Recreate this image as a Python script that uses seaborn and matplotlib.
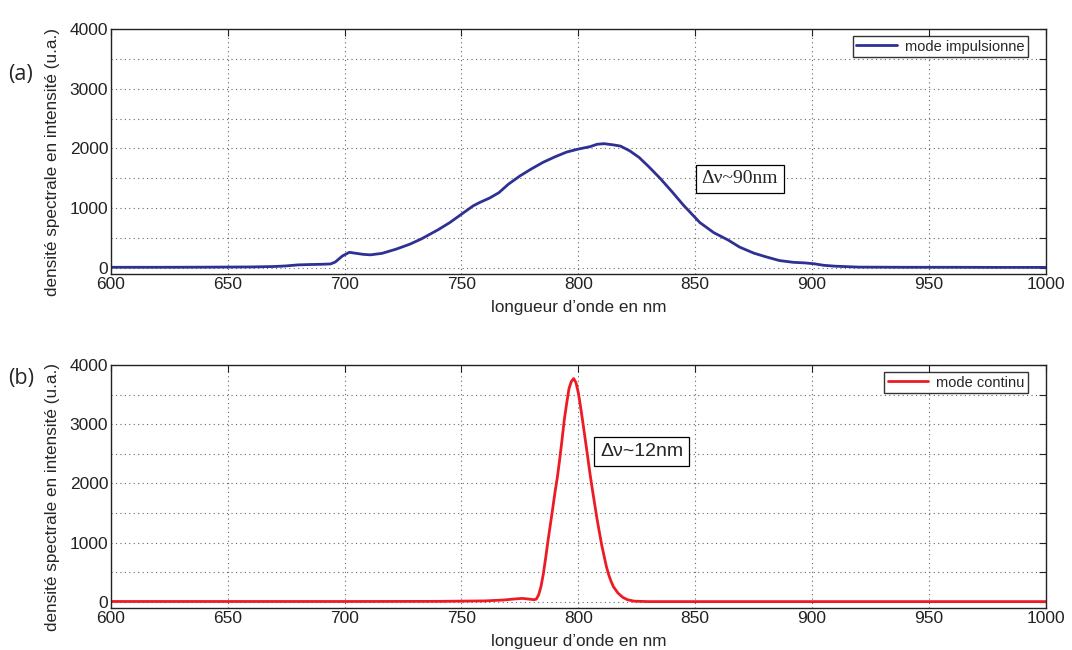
import matplotlib
matplotlib.use("Agg")
import matplotlib.pyplot as plt
import seaborn as sns
import pandas as pd
from matplotlib.ticker import MultipleLocator, FuncFormatter

# Spectre en mode impulsionnel (longueur d'onde en nm, densité en u.a.)
pulse_wl = [600, 620, 640, 660, 670, 675, 680, 685, 690, 694, 696, 699, 702, 705,
            708, 711, 716, 722, 728, 733, 740, 745, 750, 755, 758, 762, 766, 770,
            775, 780, 785, 790, 795, 800, 805, 808, 811, 815, 818, 822, 826, 830,
            835, 840, 845, 852, 858, 864, 869, 875, 880, 886, 892, 897, 901, 905,
            910, 920, 940, 960, 980, 1000]
pulse_val = [12, 12, 14, 18, 25, 35, 52, 58, 62, 68, 100, 200, 262, 245,
             228, 220, 245, 315, 400, 490, 640, 760, 900, 1040, 1100, 1170, 1260, 1400,
             1540, 1660, 1770, 1860, 1940, 1990, 2030, 2070, 2080, 2060, 2040, 1960, 1850, 1700,
             1500, 1280, 1050, 760, 590, 470, 350, 250, 190, 125, 95, 85, 70, 45,
             30, 15, 12, 12, 10, 10]

# Spectre en mode continu
cw_wl = [600, 650, 700, 740, 760, 768, 772, 776, 779, 781, 782, 783, 784, 785, 786,
         787, 788, 789, 790, 791, 792, 793, 794, 795, 796, 797, 798, 799, 800, 801,
         802, 803, 804, 805, 806, 807, 808, 809, 810, 811, 812, 813, 814, 815, 817,
         819, 821, 824, 830, 850, 900, 950, 1000]
cw_val = [10, 10, 10, 12, 20, 35, 50, 62, 50, 40, 50, 120, 260, 470, 740,
          1030, 1300, 1570, 1850, 2100, 2400, 2730, 3080, 3350, 3600, 3720, 3770, 3700, 3530, 3280,
          3010, 2730, 2450, 2160, 1900, 1650, 1400, 1180, 960, 780, 600, 460, 350, 260, 150,
          80, 40, 15, 8, 8, 8, 8, 8]

x_ticks = [600, 650, 700, 750, 800, 850, 900, 950, 1000]
y_labels = [0, 1000, 2000, 3000, 4000]

sns.set_theme(style="white")
plt.rcParams["font.family"] = ["Liberation Sans", "DejaVu Sans"]
plt.rcParams["axes.linewidth"] = 1.0

fig = plt.figure(figsize=(10.72, 6.5), dpi=100)
ax_a = fig.add_axes([0.1035, 0.5785, 0.872, 0.377])
ax_b = fig.add_axes([0.1035, 0.0646, 0.872, 0.374])

df_a = pd.DataFrame({"wl": pulse_wl, "val": pulse_val})
df_b = pd.DataFrame({"wl": cw_wl, "val": cw_val})

sns.lineplot(data=df_a, x="wl", y="val", ax=ax_a, color="#2e3192", lw=2.0,
             label="mode impulsionne")
sns.lineplot(data=df_b, x="wl", y="val", ax=ax_b, color="#ed1c24", lw=2.0,
             label="mode continu")

def fmt_y(v, pos):
    return f"{int(v)}" if int(v) in y_labels else ""

for ax in (ax_a, ax_b):
    ax.set_xlim(600, 1000)
    ax.set_ylim(-100, 4000)
    ax.set_xticks(x_ticks)
    ax.yaxis.set_major_locator(MultipleLocator(500))
    ax.yaxis.set_major_formatter(FuncFormatter(fmt_y))
    ax.tick_params(direction="in", length=5, width=0.8, top=True, right=True,
                   labelsize=12.5, colors="#222222", pad=2)
    ax.grid(True, linestyle=(0, (1, 3)), color="#666666", linewidth=0.8)
    for s in ax.spines.values():
        s.set_color("#222222")
        s.set_visible(True)
    ax.set_xlabel("longueur d’onde en nm", fontsize=12.3, labelpad=6)
    ax.set_ylabel("densité spectrale en intensité (u.a.)", fontsize=12.3)
    ax.yaxis.set_label_coords(-0.0545, 0.455)
    leg = ax.legend(loc="upper right", bbox_to_anchor=(1 - 18 / 935, 1 - 7 / 245),
                    fontsize=10.5, frameon=True, fancybox=False, handlelength=2.8,
                    borderpad=0.25, handletextpad=0.5, borderaxespad=0)
    leg.get_frame().set_edgecolor("black")
    leg.get_frame().set_linewidth(1.0)

ax_a.text(869, 1490, "Δν~90nm", family=["Liberation Serif", "DejaVu Serif"],
          fontsize=14, ha="center", va="center",
          bbox=dict(boxstyle="square,pad=0.3", fc="white", ec="black", lw=0.9))
ax_b.text(827, 2540, "Δν~12nm", fontsize=14, ha="center", va="center",
          bbox=dict(boxstyle="square,pad=0.3", fc="white", ec="black", lw=0.9))

fig.text(0.008, 0.885, "(a)", fontsize=15.5, family=["Open Sans", "DejaVu Sans"],
         va="center")
fig.text(0.008, 0.418, "(b)", fontsize=15.5, family=["Open Sans", "DejaVu Sans"],
         va="center")

fig.savefig("out.png", dpi=100)
